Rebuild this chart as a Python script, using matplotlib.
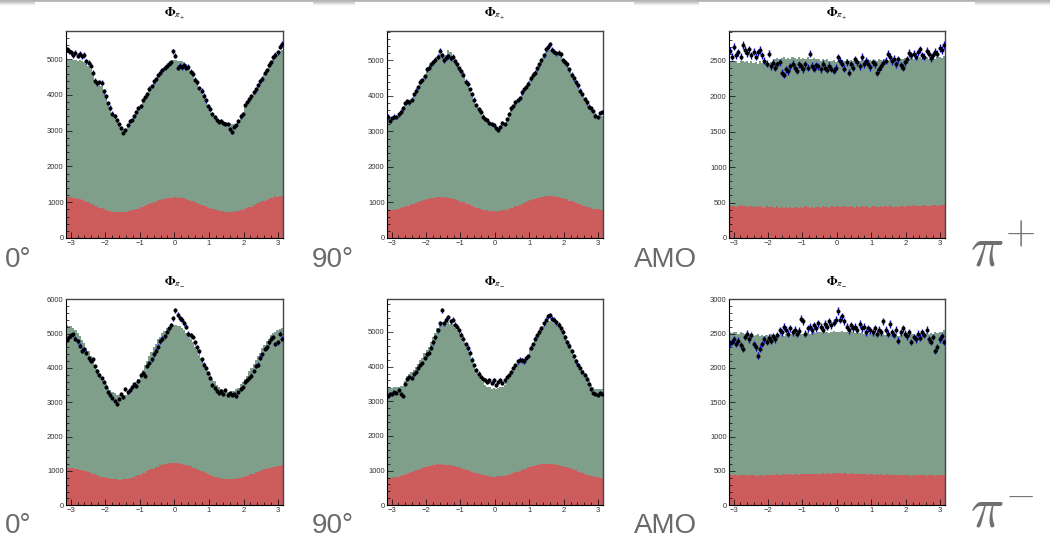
import numpy as np
import matplotlib
matplotlib.use("Agg")
import matplotlib.pyplot as plt
from matplotlib.ticker import MultipleLocator

plt.rcParams['font.family'] = ['Liberation Sans', 'DejaVu Sans']
plt.rcParams['mathtext.fontset'] = 'stix'

# 100 bins in phi from -pi to pi
phi_edges = np.linspace(-np.pi, np.pi, 101)

# ---------------- pi+ , 0 deg ----------------
pip_0_data = [5280, 5230, 5200, 5120, 5180, 5100, 5160, 5080, 5120, 4950,
              4900, 4820, 4620, 4400, 4330, 4360, 4340, 4100, 3960, 3780,
              3650, 3480, 3420, 3300, 3180, 3080, 2950, 3020, 3150, 3260,
              3300, 3420, 3520, 3640, 3700, 3860, 3950, 4020, 4180, 4250,
              4380, 4450, 4560, 4620, 4700, 4760, 4820, 4880, 4920, 5220,
              5100, 4760, 4820, 4780, 4830, 4760, 4790, 4650, 4600, 4430,
              4350, 4200, 4120, 3980, 3850, 3700, 3620, 3470, 3380, 3300,
              3250, 3280, 3220, 3200, 3180, 3050, 2960, 3100, 3150, 3280,
              3400, 3460, 3720, 3800, 3880, 3960, 4080, 4160, 4280, 4380,
              4460, 4620, 4700, 4850, 4920, 5050, 5120, 5200, 5350, 5430]
pip_0_total = [5000, 4990, 4980, 4970, 4980, 4960, 4970, 4950, 4930, 4880,
               4820, 4730, 4580, 4400, 4310, 4290, 4250, 4080, 3930, 3760,
               3630, 3490, 3410, 3300, 3200, 3110, 3050, 3050, 3130, 3230,
               3300, 3410, 3510, 3620, 3710, 3840, 3940, 4030, 4160, 4250,
               4360, 4450, 4550, 4620, 4700, 4770, 4830, 4880, 4930, 4980,
               4990, 4950, 4960, 4940, 4920, 4860, 4780, 4680, 4580, 4450,
               4340, 4220, 4110, 3990, 3860, 3730, 3620, 3490, 3400, 3330,
               3290, 3280, 3250, 3240, 3230, 3220, 3200, 3180, 3200, 3290,
               3380, 3480, 3670, 3770, 3860, 3940, 4050, 4140, 4250, 4350,
               4440, 4580, 4670, 4800, 4880, 4990, 5060, 5130, 5220, 5270]
pip_0_bkg = [1150, 1140, 1145, 1125, 1120, 1095, 1085, 1055, 1045, 1010,
             995, 955, 940, 900, 885, 850, 835, 805, 795, 765,
             760, 735, 735, 720, 725, 715, 730, 725, 745, 750,
             770, 780, 810, 820, 855, 870, 905, 920, 955, 970,
             1005, 1015, 1050, 1060, 1090, 1095, 1115, 1115, 1130, 1125,
             1135, 1120, 1125, 1105, 1105, 1080, 1070, 1045, 1030, 1000,
             985, 950, 935, 900, 885, 850, 840, 805, 800, 770,
             765, 745, 745, 730, 735, 725, 740, 735, 755, 760,
             785, 795, 825, 840, 875, 880, 930, 950, 980, 1005,
             1035, 1045, 1070, 1080, 1115, 1120, 1165, 1160, 1180, 1175]

# ---------------- pi+ , 90 deg ----------------
pip_90_data = [3420, 3300, 3380, 3420, 3400, 3480, 3560, 3650, 3800, 3850,
               3820, 3900, 4050, 4150, 4250, 4400, 4450, 4550, 4750, 4800,
               4900, 4950, 5020, 5100, 5280, 5150, 5000, 5080, 5120, 5060,
               5100, 4980, 4900, 4780, 4700, 4600, 4400, 4350, 4200, 4050,
               3900, 3750, 3620, 3560, 3420, 3350, 3320, 3250, 3200, 3180,
               3100, 3050, 3120, 3250, 3200, 3350, 3500, 3650, 3720, 3820,
               3880, 3950, 4100, 4200, 4250, 4350, 4500, 4600, 4650, 4780,
               4900, 5000, 5150, 5320, 5380, 5460, 5300, 5250, 5200, 5220,
               5180, 5000, 4950, 4900, 4750, 4600, 4500, 4380, 4300, 4150,
               4050, 3920, 3820, 3700, 3650, 3580, 3450, 3400, 3520, 3550]
pip_90_total = [3350, 3340, 3370, 3400, 3420, 3470, 3550, 3640, 3760, 3820,
                3850, 3920, 4040, 4140, 4250, 4370, 4450, 4560, 4710, 4790,
                4880, 4950, 5020, 5100, 5180, 5170, 5120, 5160, 5300, 5230,
                5120, 5000, 4900, 4790, 4690, 4570, 4420, 4320, 4190, 4040,
                3890, 3750, 3630, 3540, 3430, 3350, 3300, 3240, 3190, 3140,
                3080, 3060, 3110, 3200, 3230, 3340, 3480, 3620, 3710, 3800,
                3880, 3960, 4080, 4180, 4250, 4350, 4480, 4580, 4660, 4770,
                4880, 4990, 5110, 5230, 5280, 5300, 5260, 5220, 5200, 5180,
                5140, 5020, 4950, 4870, 4740, 4610, 4500, 4390, 4290, 4160,
                4050, 3940, 3830, 3730, 3660, 3580, 3480, 3420, 3440, 3450]
pip_90_bkg = [780, 790, 785, 800, 805, 825, 835, 860, 870, 900,
              915, 945, 960, 990, 1005, 1035, 1050, 1075, 1085, 1110,
              1115, 1135, 1135, 1150, 1145, 1150, 1140, 1145, 1125, 1120,
              1100, 1090, 1065, 1050, 1020, 1005, 970, 955, 925, 900,
              880, 850, 835, 810, 800, 780, 775, 760, 755, 750,
              745, 755, 755, 775, 780, 800, 815, 840, 855, 890,
              905, 940, 960, 995, 1015, 1045, 1065, 1095, 1105, 1135,
              1140, 1165, 1165, 1180, 1175, 1185, 1170, 1175, 1155, 1150,
              1130, 1125, 1100, 1085, 1055, 1040, 1010, 995, 960, 945,
              915, 900, 875, 860, 845, 830, 815, 810, 800, 800]

# ---------------- pi+ , AMO ----------------
pip_amo_data = [2640, 2560, 2700, 2580, 2620, 2560, 2720, 2650, 2610, 2660,
                2580, 2630, 2560, 2620, 2650, 2580, 2500, 2460, 2600, 2420,
                2470, 2400, 2450, 2480, 2330, 2300, 2380, 2350, 2420, 2460,
                2400, 2360, 2450, 2420, 2380, 2450, 2400, 2600, 2430, 2390,
                2440, 2420, 2380, 2460, 2400, 2370, 2430, 2390, 2360, 2400,
                2550, 2500, 2460, 2390, 2480, 2330, 2450, 2400, 2520, 2480,
                2420, 2560, 2450, 2500, 2460, 2410, 2480, 2450, 2330, 2380,
                2420, 2470, 2500, 2600, 2560, 2490, 2530, 2450, 2520, 2440,
                2400, 2480, 2520, 2610, 2580, 2600, 2560, 2620, 2660, 2580,
                2560, 2640, 2600, 2540, 2580, 2630, 2600, 2680, 2650, 2720]
pip_amo_total = [2490, 2500, 2480, 2490, 2470, 2500, 2490, 2480, 2500, 2470,
                 2490, 2470, 2480, 2460, 2490, 2470, 2480, 2490, 2470, 2480,
                 2500, 2530, 2540, 2520, 2540, 2550, 2530, 2540, 2520, 2550,
                 2540, 2530, 2550, 2520, 2540, 2530, 2550, 2520, 2530, 2540,
                 2520, 2530, 2500, 2520, 2510, 2530, 2500, 2490, 2510, 2480,
                 2500, 2520, 2510, 2500, 2520, 2490, 2510, 2500, 2520, 2510,
                 2490, 2520, 2510, 2500, 2520, 2510, 2490, 2510, 2500, 2520,
                 2510, 2490, 2520, 2500, 2510, 2530, 2500, 2520, 2510, 2530,
                 2520, 2540, 2530, 2520, 2550, 2530, 2540, 2520, 2550, 2530,
                 2540, 2560, 2530, 2550, 2540, 2520, 2550, 2560, 2540, 2570]
pip_amo_bkg = [450, 445, 455, 440, 450, 460, 445, 450, 440, 455,
               445, 440, 450, 435, 445, 440, 430, 445, 440, 435,
               440, 430, 445, 425, 435, 430, 440, 425, 435, 430,
               440, 435, 425, 440, 430, 445, 435, 430, 440, 425,
               435, 440, 430, 445, 435, 440, 430, 445, 440, 435,
               445, 440, 435, 450, 440, 435, 445, 440, 430, 445,
               440, 450, 435, 445, 440, 430, 445, 450, 440, 435,
               445, 440, 450, 435, 470, 440, 435, 445, 440, 450,
               445, 440, 455, 450, 445, 460, 450, 445, 455, 450,
               460, 450, 455, 445, 460, 465, 450, 460, 470, 465]

# ---------------- pi- , 0 deg ----------------
pim_0_data = [4820, 4900, 4950, 4980, 4850, 4780, 4650, 4500, 4550, 4450,
              4280, 4200, 4250, 4050, 3900, 3800, 3700, 3580, 3450, 3300,
              3200, 3120, 3050, 2950, 3100, 3250, 3150, 3380, 3300, 3350,
              3450, 3520, 3480, 3620, 3800, 3850, 3780, 4050, 4150, 4250,
              4400, 4500, 4620, 4780, 4850, 4920, 5050, 5150, 5250, 5450,
              5680, 5550, 5450, 5400, 5300, 5200, 5000, 4950, 4900, 4750,
              4600, 4480, 4250, 4100, 4000, 3850, 3700, 3500, 3420, 3320,
              3280, 3330, 3250, 3350, 3220, 3280, 3200, 3250, 3180, 3300,
              3400, 3450, 3580, 3650, 3700, 3780, 3920, 4050, 4100, 4300,
              4400, 4550, 4600, 4750, 4850, 4900, 4700, 4750, 5000, 4850]
pim_0_total = [5250, 5230, 5210, 5150, 5100, 5010, 4940, 4820, 4730, 4590,
               4490, 4340, 4230, 4090, 3980, 3840, 3740, 3610, 3530, 3430,
               3370, 3290, 3260, 3210, 3210, 3190, 3210, 3220, 3270, 3310,
               3400, 3470, 3580, 3680, 3830, 3940, 4090, 4210, 4350, 4460,
               4610, 4710, 4840, 4910, 5030, 5080, 5160, 5190, 5240, 5240,
               5260, 5220, 5210, 5150, 5110, 5020, 4950, 4840, 4760, 4620,
               4530, 4390, 4280, 4140, 4040, 3910, 3810, 3690, 3620, 3510,
               3460, 3380, 3360, 3310, 3310, 3290, 3330, 3330, 3400, 3430,
               3520, 3580, 3690, 3770, 3900, 3990, 4120, 4220, 4350, 4450,
               4580, 4660, 4780, 4850, 4960, 5010, 5060, 5110, 5130, 5160]
pim_0_bkg = [1100, 1095, 1090, 1085, 1070, 1065, 1040, 1035, 1005, 995,
             965, 950, 920, 905, 875, 865, 835, 825, 800, 795,
             770, 770, 755, 760, 745, 750, 755, 765, 770, 790,
             800, 830, 845, 880, 895, 935, 955, 995, 1015, 1050,
             1070, 1110, 1120, 1160, 1165, 1200, 1200, 1230, 1220, 1235,
             1225, 1230, 1210, 1215, 1185, 1180, 1150, 1140, 1100, 1090,
             1045, 1030, 990, 975, 930, 915, 875, 865, 830, 820,
             790, 790, 765, 770, 755, 765, 760, 775, 775, 795,
             800, 825, 835, 865, 875, 910, 925, 960, 975, 1010,
             1020, 1055, 1060, 1090, 1095, 1125, 1120, 1145, 1140, 1160]

# ---------------- pi- , 90 deg ----------------
pim_90_data = [3150, 3220, 3200, 3280, 3250, 3330, 3200, 3150, 3500, 3650,
               3700, 3680, 3780, 3850, 3950, 4050, 4100, 4250, 4350, 4400,
               4550, 4700, 4850, 5050, 5250, 5620, 5250, 5350, 5420, 5300,
               5350, 5200, 5150, 5050, 4920, 4800, 4650, 4550, 4400, 4200,
               4050, 3900, 3800, 3700, 3650, 3620, 3550, 3600, 3520, 3600,
               3480, 3550, 3620, 3520, 3600, 3700, 3750, 3850, 3950, 4050,
               4150, 4200, 4180, 4150, 4250, 4300, 4550, 4650, 4800, 4900,
               5000, 5100, 5250, 5350, 5450, 5480, 5380, 5350, 5280, 5200,
               5100, 5000, 4850, 4700, 4600, 4450, 4300, 4150, 4050, 3950,
               3850, 3750, 3650, 3500, 3350, 3250, 3200, 3180, 3250, 3220]
pim_90_total = [3400, 3410, 3390, 3420, 3400, 3420, 3430, 3450, 3580, 3720,
                3790, 3830, 3900, 3980, 4080, 4180, 4250, 4380, 4480, 4560,
                4700, 4850, 4980, 5120, 5230, 5280, 5240, 5260, 5290, 5240,
                5220, 5120, 5050, 4960, 4840, 4720, 4580, 4470, 4320, 4130,
                3980, 3830, 3720, 3620, 3550, 3480, 3420, 3400, 3360, 3370,
                3340, 3380, 3410, 3420, 3480, 3580, 3660, 3770, 3880, 3990,
                4080, 4160, 4170, 4190, 4260, 4340, 4530, 4640, 4780, 4880,
                4980, 5080, 5180, 5260, 5300, 5310, 5290, 5270, 5230, 5180,
                5120, 5040, 4900, 4760, 4660, 4510, 4370, 4220, 4110, 4010,
                3910, 3810, 3720, 3600, 3480, 3400, 3360, 3340, 3350, 3340]
pim_90_bkg = [780, 785, 790, 805, 805, 830, 840, 870, 880, 910,
              925, 960, 975, 1010, 1025, 1060, 1070, 1105, 1110, 1140,
              1145, 1165, 1165, 1180, 1175, 1185, 1170, 1175, 1160, 1155,
              1135, 1130, 1100, 1095, 1065, 1060, 1020, 1010, 975, 965,
              935, 930, 900, 890, 870, 865, 845, 840, 830, 830,
              825, 840, 835, 850, 855, 880, 880, 910, 920, 955,
              960, 1000, 1010, 1045, 1055, 1090, 1095, 1130, 1135, 1165,
              1165, 1190, 1185, 1205, 1195, 1200, 1190, 1195, 1175, 1170,
              1145, 1140, 1105, 1100, 1065, 1055, 1015, 1005, 970, 960,
              925, 915, 885, 875, 850, 835, 810, 805, 785, 780]

# ---------------- pi- , AMO ----------------
pim_amo_data = [2360, 2380, 2420, 2350, 2400, 2330, 2280, 2450, 2500, 2420,
                2480, 2350, 2300, 2180, 2280, 2350, 2420, 2380, 2440, 2400,
                2460, 2420, 2480, 2550, 2520, 2600, 2560, 2500, 2580, 2520,
                2560, 2500, 2540, 2720, 2680, 2500, 2580, 2600, 2550, 2620,
                2580, 2650, 2600, 2560, 2640, 2600, 2680, 2620, 2660, 2700,
                2830, 2700, 2750, 2680, 2600, 2550, 2620, 2580, 2600, 2560,
                2640, 2580, 2600, 2520, 2580, 2550, 2520, 2580, 2500, 2560,
                2520, 2680, 2560, 2500, 2640, 2520, 2480, 2560, 2400, 2520,
                2580, 2500, 2460, 2520, 2380, 2450, 2420, 2500, 2440, 2520,
                2480, 2560, 2420, 2380, 2450, 2250, 2300, 2420, 2460, 2380]
pim_amo_total = [2530, 2510, 2520, 2530, 2500, 2520, 2510, 2490, 2500, 2480,
                 2490, 2470, 2480, 2490, 2470, 2480, 2460, 2480, 2470, 2490,
                 2480, 2470, 2490, 2480, 2490, 2470, 2500, 2490, 2480, 2500,
                 2490, 2500, 2510, 2490, 2500, 2510, 2520, 2500, 2510, 2520,
                 2510, 2520, 2530, 2510, 2520, 2530, 2510, 2530, 2540, 2520,
                 2530, 2520, 2540, 2520, 2530, 2510, 2520, 2530, 2510, 2520,
                 2510, 2520, 2500, 2510, 2490, 2510, 2500, 2490, 2510, 2500,
                 2490, 2500, 2480, 2500, 2490, 2480, 2500, 2490, 2470, 2490,
                 2480, 2490, 2500, 2480, 2490, 2500, 2480, 2500, 2510, 2490,
                 2500, 2510, 2490, 2510, 2500, 2520, 2510, 2530, 2520, 2550]
pim_amo_bkg = [440, 445, 435, 440, 430, 440, 435, 445, 430, 440,
               435, 440, 430, 425, 435, 440, 430, 445, 435, 440,
               445, 440, 450, 445, 440, 450, 455, 445, 450, 440,
               455, 450, 445, 455, 450, 460, 455, 450, 460, 455,
               450, 460, 455, 465, 460, 455, 470, 460, 465, 470,
               465, 470, 460, 465, 455, 460, 465, 455, 460, 450,
               455, 460, 450, 455, 445, 450, 455, 445, 450, 440,
               450, 445, 440, 450, 445, 440, 445, 435, 440, 445,
               440, 435, 445, 440, 430, 440, 435, 445, 440, 435,
               440, 430, 445, 435, 440, 430, 440, 445, 440, 445]

row_titles = [r'$\mathbf{\Phi}_{\pi_{+}}$', r'$\mathbf{\Phi}_{\pi_{-}}$']
col_labels = ['0°', '90°', 'AMO']
charge_labels = [r'$\pi^{+}$', r'$\pi^{-}$']

green = '#7f9f8b'
red = '#cd5c5c'

W, H = 1050, 538
fig = plt.figure(figsize=(W / 100, H / 100), dpi=100)

# slide top border (grey band with white picture tops)
band = fig.add_axes([0, 1 - 6 / H, 1, 6 / H], zorder=-5)
grad = np.ones((6, W))
shade = np.array([0.70, 0.74, 0.80, 0.86, 0.93, 0.98])
grad *= shade[:, None]
for a, b in [(35, 313), (355, 634), (699, 975)]:
    grad[2:, a:b] = 1.0
band.imshow(grad, cmap='gray', vmin=0, vmax=1, aspect='auto')
band.axis('off')

col_left = [65.7, 386.7, 728.7]
col_w = [217.3, 216.3, 216.3]
row_top = [31, 299.3]
row_h = [207, 206]

panels = [
    (pip_0_data, pip_0_total, pip_0_bkg, 5790, 1000, 200),
    (pip_90_data, pip_90_total, pip_90_bkg, 5830, 1000, 200),
    (pip_amo_data, pip_amo_total, pip_amo_bkg, 2920, 500, 100),
    (pim_0_data, pim_0_total, pim_0_bkg, 6000, 1000, 200),
    (pim_90_data, pim_90_total, pim_90_bkg, 5940, 1000, 200),
    (pim_amo_data, pim_amo_total, pim_amo_bkg, 3000, 500, 100),
]

centers = 0.5 * (phi_edges[:-1] + phi_edges[1:])

for k, (data, total, bkg, ymax, ystep, yminor) in enumerate(panels):
    r, c = divmod(k, 3)
    left = col_left[c] / W
    bottom = 1 - (row_top[r] + row_h[r]) / H
    ax = fig.add_axes([left, bottom, col_w[c] / W, row_h[r] / H])
    ax.stairs(total, phi_edges, fill=True, color=green, lw=0)
    ax.stairs(bkg, phi_edges, fill=True, color=red, lw=0)
    data = np.array(data, dtype=float)
    ax.errorbar(centers, data, yerr=np.sqrt(data), fmt='o', ms=1.9,
                mfc='black', mec='black', ecolor='#0a0ad0', elinewidth=1.0,
                capsize=0, zorder=5)
    ax.set_xlim(-np.pi, np.pi)
    ax.set_ylim(0, ymax)
    ax.set_xticks(range(-3, 4))
    ax.xaxis.set_minor_locator(MultipleLocator(0.2))
    ax.yaxis.set_major_locator(MultipleLocator(ystep))
    ax.yaxis.set_minor_locator(MultipleLocator(yminor))
    ax.tick_params(which='both', direction='in', top=False, right=False,
                   labelsize=5.5, labelcolor='#333333', width=0.5)
    ax.tick_params(which='major', length=4, pad=1.5)
    ax.tick_params(which='minor', length=2)
    for s in ['left', 'bottom']:
        ax.spines[s].set_linewidth(0.8)
    for s in ['top', 'right']:
        ax.spines[s].set_linewidth(1.0)
        ax.spines[s].set_color('#444444')

    cx = (col_left[c] + col_w[c] / 2) / W
    ty = 1 - (row_top[r] - 18) / H
    fig.text(cx, ty, row_titles[r], ha='center', va='center', fontsize=9)

# big slide labels
label_x = [5, 312, 634]
base_y = [267, 533]
pi_base_y = [266, 528]
for r in range(2):
    for c in range(3):
        fig.text(label_x[c] / W, 1 - base_y[r] / H, col_labels[c],
                 fontsize=20, color='#6a6a6a', ha='left', va='baseline')
    fig.text(970 / W, 1 - pi_base_y[r] / H, charge_labels[r], fontsize=40,
             color='#707070', ha='left', va='baseline', math_fontfamily='cm')

fig.savefig('out.png', dpi=100)
